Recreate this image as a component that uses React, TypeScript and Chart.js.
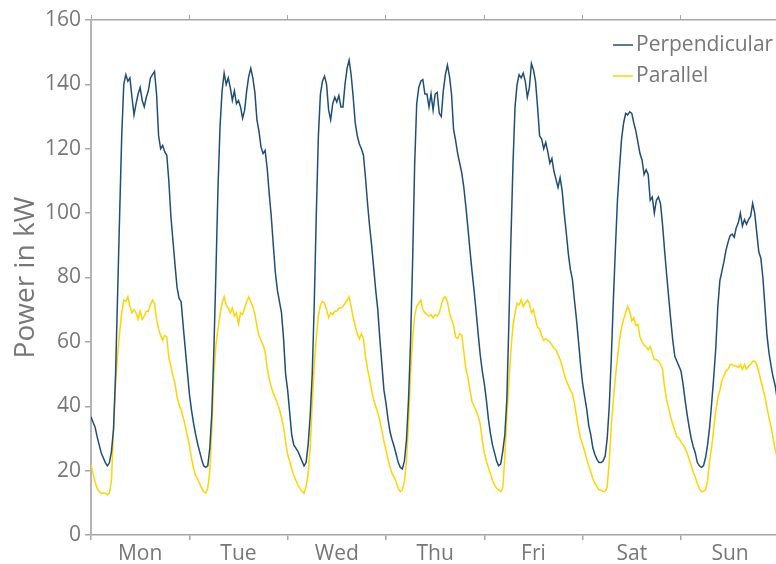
import React, { useEffect, useRef } from 'react';
import { Chart, registerables } from 'chart.js';

Chart.register(...registerables);

// ---- data (half-hourly readings, kW) ----
const dayLabels = ['Mon', 'Tue', 'Wed', 'Thu', 'Fri', 'Sat', 'Sun'];
const dayStarts = [0, 24, 48, 72, 96, 120, 144];
const yTickValues = [0, 20, 40, 60, 80, 100, 120, 140, 160];
const seriesNames = ['Perpendicular', 'Parallel'];
const stepHours = 0.5;
const xMaxHours = 167.2;

const perpMon = [36.7, 35, 33.5, 30.5, 28, 25.5, 24, 22.5, 21.5, 22.5, 26, 33, 50, 75, 100, 124, 140, 143, 141, 142, 136, 130.5, 134, 137, 139, 135, 133, 136, 138, 142, 143, 144, 137, 124, 120, 121, 119, 118, 110, 99, 91.5, 84, 77, 73.5, 72.5, 65, 58, 51];
const perpTue = [44, 39, 35, 31.5, 28.5, 26, 23.5, 21.5, 21, 21.5, 27, 38, 58, 82, 108, 127, 138, 143.5, 140, 142, 139, 135, 138, 134, 135, 133, 129.5, 132, 138, 142.5, 145, 142, 137.5, 129, 125.5, 120.5, 118.5, 119.5, 114, 106, 99, 90, 81.5, 76, 72.5, 69, 61, 50];
const perpWed = [45, 38, 31, 28, 27, 26, 24.5, 23, 21.5, 22.5, 28, 37, 50, 72, 100, 124, 137, 141, 142.5, 140, 132, 129, 134, 136, 134.5, 136.5, 133, 133, 140, 145, 147.5, 143, 136, 128, 124, 121.5, 120, 118, 111, 103, 96, 90, 83, 76, 70, 61, 53, 45];
const perpThu = [41, 36, 32, 29.5, 27.5, 25, 22.5, 21, 20.5, 23, 29.5, 42, 60, 85, 115, 134, 139, 141, 141.5, 137, 137, 133, 137, 132, 137, 137.5, 131, 130, 138, 143, 146, 142.5, 137, 126, 122.5, 118.5, 115.5, 112.5, 108, 102, 95.5, 88.5, 82, 76, 69.5, 62.5, 56, 51];
const perpFri = [47, 42, 36, 31.5, 28, 25.5, 23, 21.5, 22, 26, 31, 42, 66, 92, 115, 133, 140, 143, 142, 143.5, 141, 136, 139, 146.5, 144.5, 141, 133, 124, 123, 120, 122, 119, 115.5, 117, 113, 110.5, 108, 111, 107, 100, 94, 87.5, 82.5, 79.5, 73, 67, 60, 53];
const perpSat = [47, 43, 39, 34, 31, 27, 25, 23.5, 22.5, 22.5, 23, 24.5, 30, 40, 55, 73, 89, 104, 114, 123, 128, 131, 130.5, 131.5, 131, 128, 125.5, 122, 118.5, 116.5, 112, 113.5, 112, 104, 105, 100, 104, 105, 103, 96.5, 88.5, 81, 74, 67, 60.5, 55.5, 54, 52.5];
const perpSun = [51, 47, 42, 37.5, 33.5, 30, 27.5, 25.5, 22.5, 21.5, 21, 21.5, 24, 28, 33.5, 41, 49, 58, 71, 79, 82, 85, 88.5, 91, 93, 93.5, 92.5, 95.5, 97, 100, 96, 98, 96.5, 98, 99, 103, 100, 94, 88, 86, 80, 71, 62, 56.5, 52.5, 49, 46.5, 42];

const parMon = [22, 19, 16.5, 14.5, 13.5, 13, 13, 13, 12.5, 13, 17, 33, 47, 56, 63, 69, 73, 72.5, 74, 71, 69, 70, 69, 67, 69.5, 67, 68, 69.5, 69.5, 71.5, 73, 72, 67, 64, 62, 60.5, 62, 61.5, 55, 52.5, 49.5, 47, 43, 40.5, 39, 36.5, 34, 31];
const parTue = [28, 24, 21, 18.5, 17.5, 16, 14.5, 13.5, 13, 14.5, 20, 33, 50, 59, 64, 68.5, 72, 74, 71.5, 70.5, 69, 70.5, 68, 69, 65.5, 69, 68.5, 70.5, 72.5, 74, 72.5, 71, 68.5, 65, 62, 60.5, 59, 57, 52, 48.5, 46, 44, 42.5, 41, 39, 36.5, 33.5, 29];
const parWed = [25, 23, 20.5, 18.5, 17, 15.5, 14.5, 13.5, 13, 15, 19, 27, 41, 53, 61.5, 68, 71.5, 72.5, 72, 70, 67.5, 69, 68.5, 69.5, 69.5, 70.5, 70.5, 71, 72, 73, 74, 71, 67.5, 65, 62.5, 61, 62.5, 61, 55.5, 51.5, 48.5, 45, 42, 40, 38, 35.5, 32.5, 29];
const parThu = [26.5, 23.5, 21, 19, 18, 16.5, 14.5, 13.5, 14, 16.5, 23, 35, 50, 61, 68, 71, 72, 73, 70, 69, 68.5, 68, 68.5, 67.5, 68.5, 68, 69, 71.5, 73.5, 74, 72.5, 69, 67, 65, 61.5, 61, 62.5, 62, 57, 51.5, 49, 45, 41.5, 40, 38.5, 37, 34.5, 29.5];
const parFri = [25.5, 23, 21, 19, 17, 15.5, 14.5, 14, 13.5, 14.5, 24, 37, 47, 57.5, 65, 69, 72, 71.5, 73, 71, 72, 73, 72, 69, 70, 67, 64.5, 64, 62, 60.5, 61, 60.5, 60, 59, 58, 57.5, 56, 54.5, 52.5, 50, 48, 46.5, 45, 44, 41, 37, 33, 30];
const parSat = [28, 26, 23.5, 21.5, 19.5, 17.5, 16, 15, 14, 14, 13.5, 13.5, 15, 23, 34, 42, 49, 55, 60.5, 64.5, 67, 69, 71, 69.5, 66.5, 67.5, 65, 65.5, 61.5, 60, 59, 58.5, 57.5, 58.5, 56.5, 54.5, 54.5, 54, 53, 51.5, 46, 42, 39.5, 36.5, 34.5, 32.5, 30.5, 30];
const parSun = [29, 28, 27, 25.5, 23.5, 21.5, 19.5, 18, 16, 14.5, 13.5, 13.5, 14, 17, 23, 27.5, 33, 38.5, 42.5, 45, 48, 49.5, 51, 51.5, 53, 53, 52.5, 52.5, 52, 53, 51.5, 53, 51.5, 52.5, 53, 54, 54, 53, 50.5, 48, 45.5, 43, 39.5, 36.5, 33.5, 30, 26.5, 24];

const perpendicular = [perpMon, perpTue, perpWed, perpThu, perpFri, perpSat, perpSun];
const parallel = [parMon, parTue, parWed, parThu, parFri, parSat, parSun];

// ---- styles ----
const FONT = '"Open Sans", "Noto Sans", sans-serif';
const TEXT = '#777777';
const AXIS = '#a6a6a6';
const BLUE = '#1f4e79';
const YELLOW = '#ffd400';
const W = 776;
const H = 564;
const PLOT_LEFT = 91;
const PLOT_TOP = 20;
const PLOT_BOTTOM = 535;
const DAY_PX = ((W - PLOT_LEFT) / xMaxHours) * 24;

function toPoints(days: number[][]) {
  return days.flat().map((v, i) => ({ x: i * stepHours, y: v }));
}

const insideLegend = {
  id: 'insideLegend',
  afterDraw(chart: any) {
    const ctx = chart.ctx as CanvasRenderingContext2D;
    ctx.save();
    ctx.font = `21px ${FONT}`;
    ctx.textBaseline = 'middle';
    ctx.textAlign = 'left';
    chart.data.datasets.forEach((ds: any, i: number) => {
      const y = 45 + i * 31;
      ctx.strokeStyle = ds.borderColor;
      ctx.lineWidth = 1.5;
      ctx.beginPath();
      ctx.moveTo(613, y);
      ctx.lineTo(633, y);
      ctx.stroke();
      ctx.fillStyle = TEXT;
      ctx.fillText(ds.label, 636, y);
    });
    ctx.restore();
  },
};

export default function App() {
  const ref = useRef<HTMLCanvasElement | null>(null);

  useEffect(() => {
    if (!ref.current) return;
    const dayTicks = (s: any) => {
      s.ticks = dayStarts.map((v) => ({ value: v }));
    };
    const chart = new Chart(ref.current, {
      type: 'line',
      data: {
        datasets: [
          {
            label: seriesNames[0],
            data: toPoints(perpendicular),
            borderColor: BLUE,
            borderWidth: 1.5,
            pointRadius: 0,
            tension: 0,
            fill: false,
          },
          {
            label: seriesNames[1],
            data: toPoints(parallel),
            borderColor: YELLOW,
            borderWidth: 1.5,
            pointRadius: 0,
            tension: 0,
            fill: false,
          },
        ],
      },
      options: {
        animation: false,
        responsive: false,
        events: [],
        layout: { padding: 0 },
        plugins: {
          legend: { display: false },
          tooltip: { enabled: false },
        },
        scales: {
          x: {
            type: 'linear',
            position: 'bottom',
            min: 0,
            max: xMaxHours,
            afterBuildTicks: dayTicks,
            afterFit: (s: any) => {
              s.height = H - PLOT_BOTTOM;
            },
            ticks: {
              autoSkip: false,
              maxRotation: 0,
              callback: (_v: any, i: number) => dayLabels[i],
              labelOffset: DAY_PX / 2,
              padding: 1,
              color: TEXT,
              font: { family: FONT, size: 21 },
            },
            grid: {
              drawOnChartArea: false,
              drawTicks: true,
              tickLength: 5,
              color: AXIS,
              lineWidth: 1.5,
            },
            border: { display: true, color: AXIS, width: 1.5 },
          },
          xTop: {
            type: 'linear',
            position: 'top',
            min: 0,
            max: xMaxHours,
            afterBuildTicks: dayTicks,
            afterFit: (s: any) => {
              s.height = PLOT_TOP;
            },
            ticks: { display: false },
            grid: {
              drawOnChartArea: false,
              drawTicks: true,
              tickLength: 5,
              color: AXIS,
              lineWidth: 1,
            },
            border: { display: true, color: AXIS, width: 1.5 },
          },
          y: {
            type: 'linear',
            position: 'left',
            min: 0,
            max: 160,
            afterBuildTicks: (s: any) => {
              s.ticks = yTickValues.map((v) => ({ value: v }));
            },
            afterFit: (s: any) => {
              s.width = PLOT_LEFT;
            },
            ticks: {
              padding: 4,
              color: TEXT,
              font: { family: FONT, size: 21 },
            },
            grid: {
              drawOnChartArea: false,
              drawTicks: true,
              tickLength: 6,
              color: AXIS,
              lineWidth: 1.5,
            },
            border: { display: true, color: '#b4b4b4', width: 2 },
            title: {
              display: true,
              text: 'Power in kW',
              color: TEXT,
              font: { family: FONT, size: 28 },
              padding: { top: 9, bottom: 0 },
            },
          },
        },
      },
      plugins: [insideLegend],
    } as any);
    return () => chart.destroy();
  }, []);

  return (
    <div style={{ position: 'absolute', left: 0, top: 0, width: W, height: H, background: '#fff' }}>
      <canvas ref={ref} width={W} height={H} style={{ display: 'block' }} />
    </div>
  );
}
